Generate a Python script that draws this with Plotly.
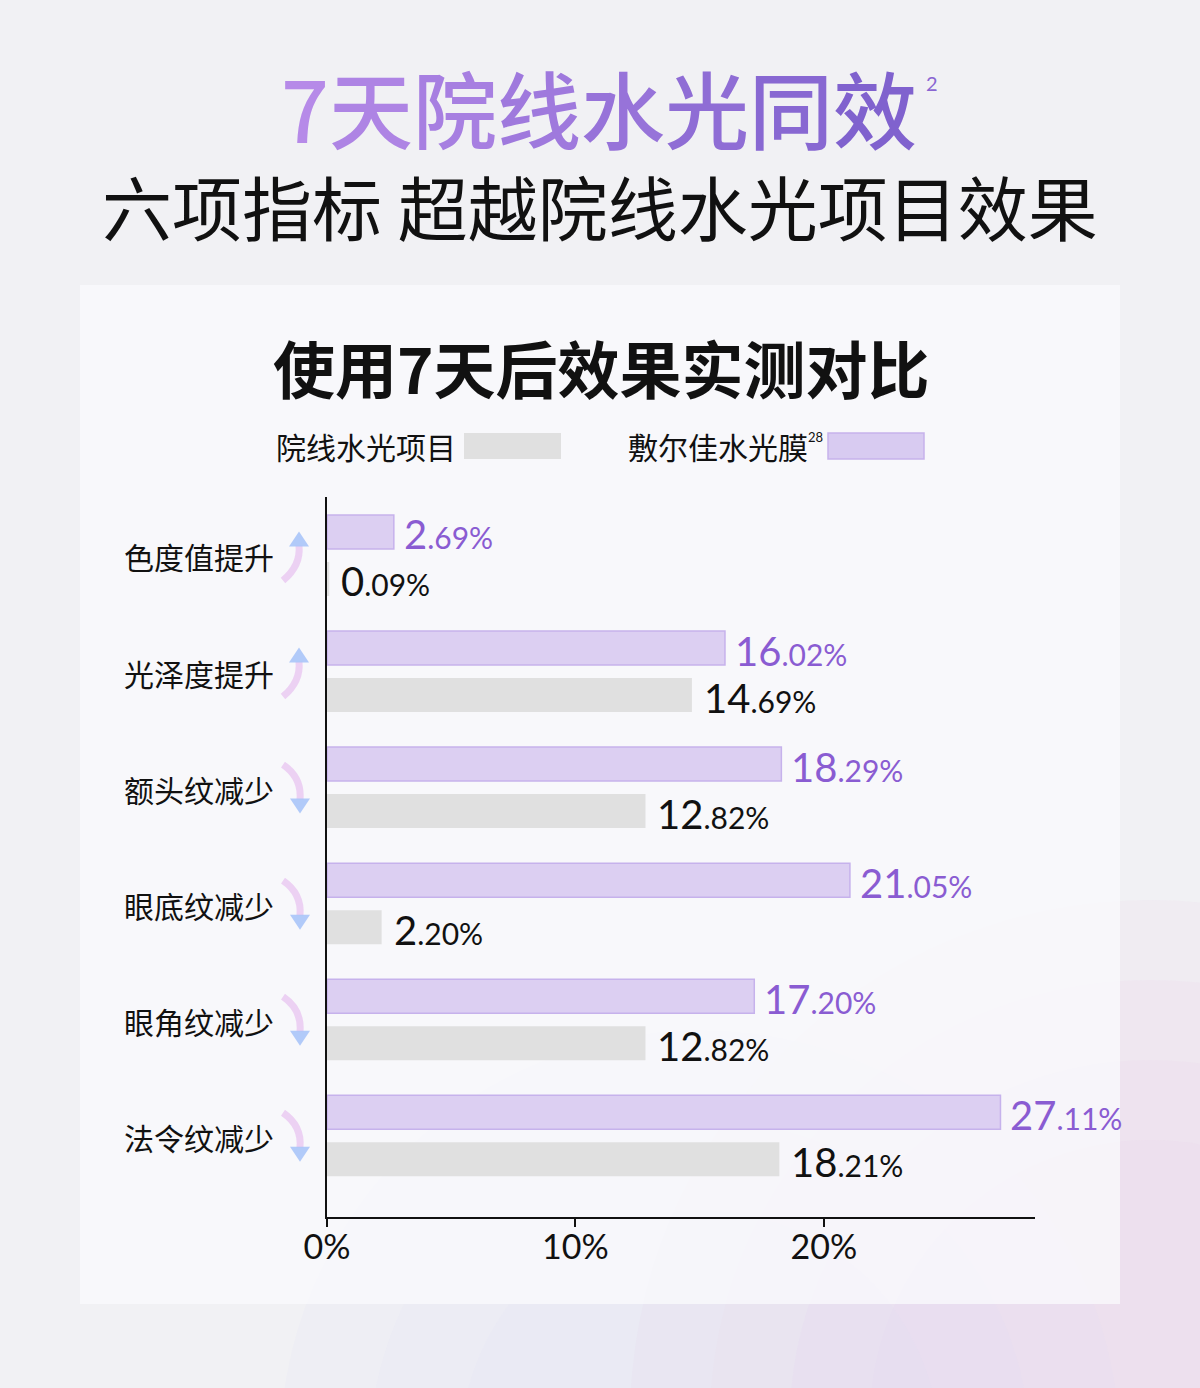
import plotly.graph_objects as go

# ---------------- data ----------------
categories = ["色度值提升", "光泽度提升", "额头纹减少", "眼底纹减少", "眼角纹减少", "法令纹减少"]
directions = ["up", "up", "down", "down", "down", "down"]
brand_values = [2.69, 16.02, 18.29, 21.05, 17.20, 27.11]      # 敷尔佳水光膜
clinic_values = [0.09, 14.69, 12.82, 2.20, 12.82, 18.21]      # 院线水光项目
tick_vals = [0, 10, 20]
tick_text = ["0%", "10%", "20%"]
brand_name = "敷尔佳水光膜"
clinic_name = "院线水光项目"

# ---------------- geometry helpers ----------------
W, H = 1200, 1388
L, R, T, B = 327, 1035, 497, 1217
PW, PH = R - L, B - T
Y_LO, Y_HI = -0.504, 5.70
UNIT = PH / (Y_HI - Y_LO)


def xp(px):
    return (px - L) / PW


def yp(py):
    return (B - py) / PH


def cat_center_px(i):
    return T + (i - Y_LO) * UNIT


PURPLE_TXT = "#8a5cd2"
NUM_FONT = "Lato"
CJK = "Noto Sans CJK SC"


def value_label(v):
    s = f"{v:.2f}"
    i, d = s.split(".")
    return (f"<span style='font-size:40px'>{i}</span>"
            f"<span style='font-size:30px'>.{d}%</span>")


fig = go.Figure()

fig.add_trace(go.Bar(
    y=categories, x=brand_values, orientation="h", name=brand_name,
    marker=dict(color="#dccff2", line=dict(color="#c6b2ec", width=1.5)),
    hoverinfo="skip",
))
fig.add_trace(go.Bar(
    y=categories, x=clinic_values, orientation="h", name=clinic_name,
    marker=dict(color="#e0e0e0", line=dict(width=0)),
    hoverinfo="skip",
))

annotations = []
shapes = []

# soft colored glows (below the card), layered for a gradient look
for k, r in enumerate([520, 440, 360, 280]):
    cx, cyg = 1150, 1420
    shapes.append(dict(type="circle", xref="paper", yref="paper", layer="below",
                       x0=xp(cx - r), x1=xp(cx + r), y0=yp(cyg + r), y1=yp(cyg - r),
                       fillcolor="rgba(236,206,232,0.14)", line=dict(width=0)))
for k, r in enumerate([420, 330, 240]):
    cx, cyg = 700, 1450
    shapes.append(dict(type="circle", xref="paper", yref="paper", layer="below",
                       x0=xp(cx - r), x1=xp(cx + r), y0=yp(cyg + r), y1=yp(cyg - r),
                       fillcolor="rgba(220,222,246,0.12)", line=dict(width=0)))
# background card
shapes.append(dict(type="rect", xref="paper", yref="paper", layer="below",
                   x0=xp(80), x1=xp(1120), y0=yp(1304), y1=yp(285),
                   fillcolor="rgba(250,250,252,0.78)", line=dict(width=0)))

# value labels
for c, v in zip(categories, brand_values):
    annotations.append(dict(x=v, y=c, xref="x", yref="y", text=value_label(v),
                            showarrow=False, xanchor="left", yanchor="middle",
                            xshift=8, yshift=21, font=dict(family=NUM_FONT, size=30, color=PURPLE_TXT)))
for c, v in zip(categories, clinic_values):
    annotations.append(dict(x=v, y=c, xref="x", yref="y", text=value_label(v),
                            showarrow=False, xanchor="left", yanchor="middle",
                            xshift=10, yshift=-26, font=dict(family=NUM_FONT, size=30, color="#111111")))

# category labels + decorative curved arrows
for i, (c, d) in enumerate(zip(categories, directions)):
    annotations.append(dict(x=xp(276), y=c, xref="paper", yref="y", text=c, showarrow=False,
                            xanchor="right", yanchor="middle", yshift=-1,
                            font=dict(family=CJK, size=30, color="#111111")))
    cy = cat_center_px(i)
    if d == "up":
        tail = (f"M {xp(283)} {yp(cy + 25)} Q {xp(301)} {yp(cy + 10)} {xp(299)} {yp(cy - 10)}")
        head = (f"M {xp(289)} {yp(cy - 9)} L {xp(309)} {yp(cy - 9)} L {xp(299)} {yp(cy - 24)} Z")
    else:
        tail = (f"M {xp(283)} {yp(cy - 23)} Q {xp(302)} {yp(cy - 10)} {xp(300)} {yp(cy + 12)}")
        head = (f"M {xp(290)} {yp(cy + 11)} L {xp(310)} {yp(cy + 11)} L {xp(300)} {yp(cy + 26)} Z")
    shapes.append(dict(type="path", xref="paper", yref="paper", path=tail,
                       line=dict(color="rgba(232,196,240,0.75)", width=7)))
    shapes.append(dict(type="path", xref="paper", yref="paper", path=head,
                       fillcolor="rgba(168,196,248,0.9)", line=dict(width=0)))

# main title with horizontal gradient via per-character colours
title_chars = "7天院线水光同效"
c0 = (182, 138, 232)
c1 = (128, 98, 206)
parts = []
n = len(title_chars)
for k, ch in enumerate(title_chars):
    t = k / (n - 1)
    col = tuple(round(c0[j] + (c1[j] - c0[j]) * t) for j in range(3))
    parts.append(f"<span style='color:rgb{col}'>{ch}</span>")
annotations.append(dict(x=xp(599), y=yp(107), xref="paper", yref="paper", text="".join(parts),
                        showarrow=False, xanchor="center", yanchor="middle",
                        font=dict(family=CJK, size=84, color="#9a72dc", weight=500)))
annotations.append(dict(x=xp(932), y=yp(83), xref="paper", yref="paper", text="2",
                        showarrow=False, xanchor="center", yanchor="middle",
                        font=dict(family=NUM_FONT, size=20, color="#8a66d2")))

annotations.append(dict(x=xp(600), y=yp(205), xref="paper", yref="paper",
                        text="六项指标 超越院线水光项目效果",
                        showarrow=False, xanchor="center", yanchor="middle",
                        font=dict(family=CJK, size=70, color="#111111", weight=400)))

annotations.append(dict(x=xp(601), y=yp(367), xref="paper", yref="paper",
                        text="使用7天后效果实测对比",
                        showarrow=False, xanchor="center", yanchor="middle",
                        font=dict(family=CJK, size=62, color="#111111", weight=700)))

# legend
annotations.append(dict(x=xp(274), y=yp(446), xref="paper", yref="paper", text=clinic_name,
                        showarrow=False, xanchor="left", yanchor="middle",
                        font=dict(family=CJK, size=30, color="#111111")))
shapes.append(dict(type="rect", xref="paper", yref="paper",
                   x0=xp(464), x1=xp(561), y0=yp(459), y1=yp(433),
                   fillcolor="#e0e0e0", line=dict(width=0)))
annotations.append(dict(x=xp(626), y=yp(446), xref="paper", yref="paper", text=brand_name,
                        showarrow=False, xanchor="left", yanchor="middle",
                        font=dict(family=CJK, size=30, color="#111111")))
annotations.append(dict(x=xp(806), y=yp(437), xref="paper", yref="paper", text="28",
                        showarrow=False, xanchor="left", yanchor="middle",
                        font=dict(family=NUM_FONT, size=13, color="#111111")))
shapes.append(dict(type="rect", xref="paper", yref="paper",
                   x0=xp(828), x1=xp(924), y0=yp(459), y1=yp(433),
                   fillcolor="#d8cbf1", line=dict(color="#c6b2ec", width=1.5)))

fig.update_layout(
    width=W, height=H,
    margin=dict(l=L, r=W - R, t=T, b=H - B, pad=0),
    paper_bgcolor="#f1f1f4",
    plot_bgcolor="rgba(0,0,0,0)",
    barmode="group", bargap=0.19, bargroupgap=0.277,
    showlegend=False,
    xaxis=dict(range=[0, 28.5], tickvals=tick_vals, ticktext=tick_text,
               showgrid=False, zeroline=False, showline=True, linecolor="#111111", linewidth=1.5,
               ticks="outside", ticklen=8, tickwidth=1.5, tickcolor="#111111",
               ticklabelstandoff=-9,
               tickfont=dict(family=NUM_FONT, size=34, color="#111111"), fixedrange=True),
    yaxis=dict(type="category", categoryorder="array", categoryarray=categories,
               range=[Y_HI, Y_LO], showgrid=False, zeroline=False,
               showline=True, linecolor="#111111", linewidth=1.5,
               showticklabels=False, ticks="", fixedrange=True),
    annotations=annotations, shapes=shapes,
)

fig.write_html("out.html", config={"displayModeBar": False},
               post_script="document.body.style.margin='0';document.body.style.overflow='hidden';")
